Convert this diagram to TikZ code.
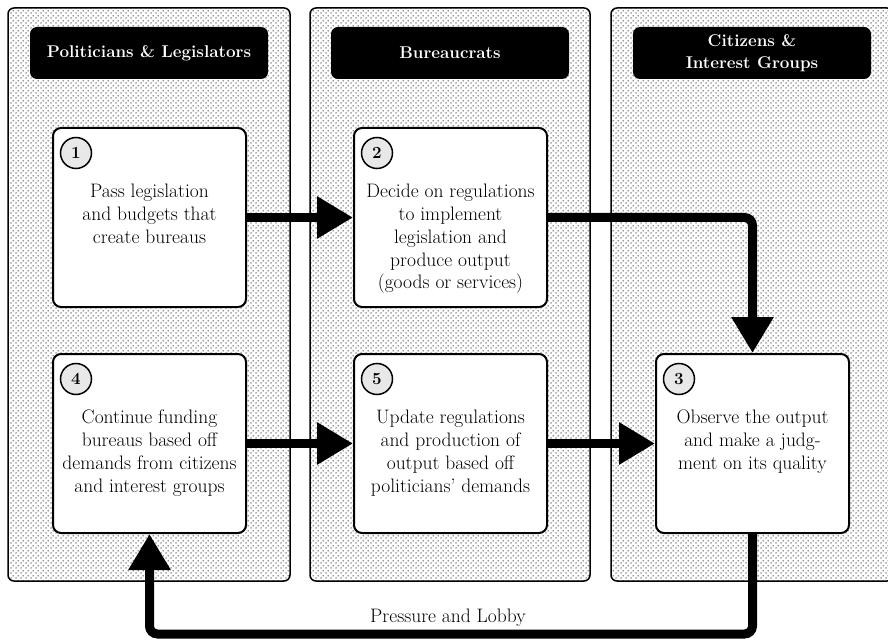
\documentclass[tikz,border=0pt]{standalone}
\usepackage{fontspec}
\usetikzlibrary{arrows.meta,patterns}
\pgfdeclarepatternformonly{mydots}{\pgfqpoint{0pt}{0pt}}{\pgfqpoint{5pt}{5pt}}{\pgfqpoint{5pt}{5pt}}{%
  \pgfpathcircle{\pgfqpoint{1.25pt}{1.25pt}}{0.8pt}%
  \pgfpathcircle{\pgfqpoint{3.75pt}{3.75pt}}{0.8pt}%
  \pgfusepath{fill}}
\tikzset{
  panel/.style={draw=black, line width=1.5pt, rounded corners=6pt, pattern=mydots, pattern color=black!85},
  hdr/.style={fill=black, rounded corners=7pt, minimum width=238pt, minimum height=52pt, inner sep=0pt,
    text=white, align=center, font=\fontsize{17pt}{22.5pt}\selectfont\bfseries},
  stepbox/.style={draw=black, fill=white, line width=2pt, rounded corners=8pt, minimum width=193pt,
    minimum height=179pt, inner sep=0pt, anchor=north west},
  txt/.style={align=center, inner sep=0pt, font=\fontsize{19.5pt}{22.8pt}\selectfont},
  num/.style={circle, draw=black, line width=1.5pt, fill=black!9, minimum size=31pt, inner sep=0pt,
    font=\fontsize{17pt}{19pt}\selectfont\bfseries},
  conn/.style={line width=9pt, rounded corners=8pt, -{Triangle[length=36pt,width=40pt]}},
}
\begin{document}
\begin{tikzpicture}[x=1pt,y=-1pt]
\useasboundingbox (0,0) rectangle (888,644);
\begin{scope}
\clip (0,0) rectangle (888,644);
% panels
\path[panel] (8,8) rectangle (290,581);
\path[panel] (310,8) rectangle (590,581);
\path[panel] (611,8) rectangle (893,581);
% headers
\node[hdr] (h1) at (149,53) {Politicians \& Legislators};
\node[hdr] (h2) at (450,53) {Bureaucrats};
\node[hdr] (h3) at (752,53) {Citizens \&\\Interest Groups};
\end{scope}
% boxes
\node[stepbox] (b1) at (52,127) {};
\node[stepbox] (b2) at (353,127) {};
\node[stepbox] (b4) at (52,353) {};
\node[stepbox] (b5) at (353,353) {};
\node[stepbox] (b3) at (655,353) {};
% numbers
\node[num] (n1) at ([xshift=24pt,yshift=-26pt]b1.north west) {1};
\node[num] (n2) at ([xshift=24pt,yshift=-26pt]b2.north west) {2};
\node[num] (n3) at ([xshift=24pt,yshift=-26pt]b3.north west) {3};
\node[num] (n4) at ([xshift=24pt,yshift=-26pt]b4.north west) {4};
\node[num] (n5) at ([xshift=24pt,yshift=-26pt]b5.north west) {5};
% texts
\node[txt, anchor=north] (t1) at ([yshift=-57pt]b1.north) {Pass legislation\\and budgets that\\create bureaus};
\node[txt, anchor=north] (t2) at ([yshift=-57pt]b2.north) {Decide on regulations\\to implement\\legislation and\\produce output\\(goods or services)};
\node[txt, anchor=north] (t3) at ([yshift=-57pt]b3.north) {Observe the output\\and make a judg-\\ment on its quality};
\node[txt, anchor=north] (t4) at ([yshift=-57pt]b4.north) {Continue funding\\bureaus based off\\demands from citizens\\and interest groups};
\node[txt, anchor=north] (t5) at ([yshift=-57pt]b5.north) {Update regulations\\and production of\\output based off\\politicians' demands};
% connectors
\coordinate (bot) at (448,634);
\draw[conn] (b1) -- (b2);
\draw[conn] (b2.east) -| (b3.north);
\draw[conn] (b4) -- (b5);
\draw[conn] (b5) -- (b3);
\draw[conn] (b3.south) |- (bot) -| (b4.south);
\node[txt] (lbl) at (448,618) {Pressure and Lobby};
\end{tikzpicture}
\end{document}
